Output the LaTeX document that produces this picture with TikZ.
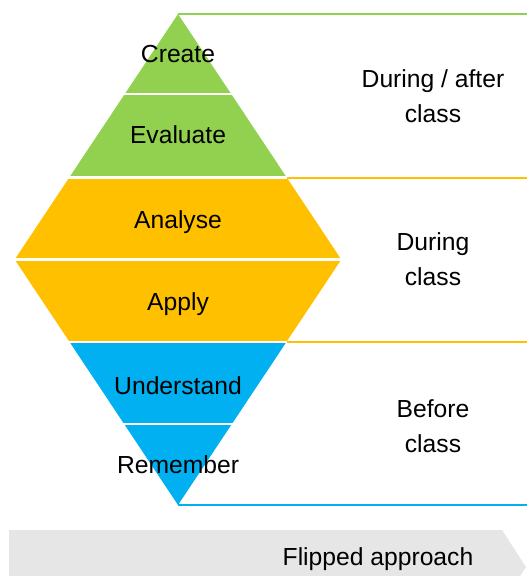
\documentclass[tikz,border=0pt]{standalone}
\usepackage{fontspec}
\setmainfont{Liberation Sans}
\definecolor{lvlgreen}{HTML}{92D050}
\definecolor{lvlyellow}{HTML}{FFC000}
\definecolor{lvlblue}{HTML}{00B0F0}
\definecolor{bargrey}{HTML}{E7E6E6}

\begin{document}
\begin{tikzpicture}[
        x=0.75pt, y=-0.75pt,
        level/.style={anchor=base, inner sep=0pt, font=\fontsize{18.5}{22}\selectfont},
        phase/.style={align=center, inner sep=0pt, font=\fontsize{18.5}{26.25}\selectfont},
        gap/.style={white, line width=1.6pt},
        rule/.style={line width=1pt}
    ]
    \useasboundingbox (0,0) rectangle (527,576);
    \clip (0,0) rectangle (527,576);

    \fill[lvlgreen] (178,14) -- (286.4,177) -- (69.6,177) -- cycle;
    \fill[lvlyellow] (69.6,177) -- (286.4,177) -- (341.3,259.5) -- (286.4,342) -- (69.6,342) -- (14.7,259.5) -- cycle;
    \fill[lvlblue] (69.6,342) -- (286.4,342) -- (178,505) -- cycle;
    \draw[gap] (115,94) -- (240,94);
    \draw[gap] (60,177.5) -- (290,177.5);
    \draw[gap] (5,259.5) -- (350,259.5);
    \draw[gap] (60,342) -- (290,342);
    \draw[gap] (115,424) -- (240,424);

    \coordinate (apex) at (178,14);
    \coordinate (gend) at (527,14);
    \coordinate (ystart) at (287,178);
    \coordinate (yend) at (527,178);
    \coordinate (bstart) at (287,342);
    \coordinate (bend) at (527,342);
    \coordinate (foot) at (178,505);
    \coordinate (fend) at (527,505);
    \draw[rule, lvlgreen] (apex) -- (gend);
    \draw[rule, lvlyellow] (ystart) -- (yend);
    \draw[rule, lvlyellow] (bstart) -- (bend);
    \draw[rule, lvlblue] (foot) -- (fend);

    \node[level] (cr) at (178,62) {Create};
    \node[level] (ev) at (178,143) {Evaluate};
    \node[level] (an) at (178,228) {Analyse};
    \node[level] (ap) at (178,310) {Apply};
    \node[level] (un) at (178,394) {Understand};
    \node[level] (re) at (178,473) {Remember};

    \node[phase] (after) at (433,96) {During / after\\class};
    \node[phase] (during) at (433,259) {During\\class};
    \node[phase] (before) at (433,426) {Before\\class};

    \fill[bargrey] (9,530) -- (502,530) -- (526,567) -- (502,604) -- (9,604) -- cycle;
    \node[level] (flip) at (378,565) {Flipped approach};
\end{tikzpicture}
\end{document}
